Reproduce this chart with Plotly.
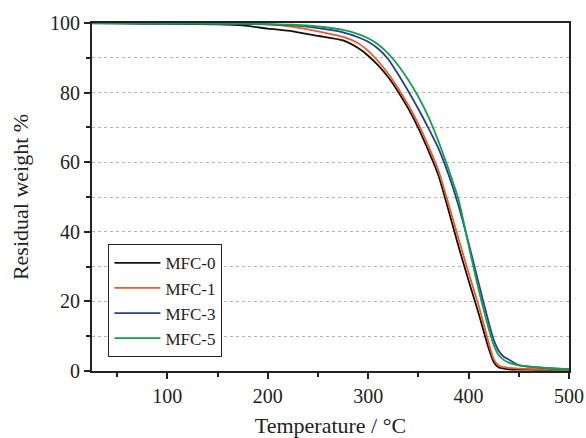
import plotly.graph_objects as go

# Thermogravimetric curves: residual mass vs temperature
temperature = [25, 50, 100, 150, 175, 200, 225, 250, 275, 290, 300, 310, 320, 330,
               340, 350, 360, 370, 380, 390, 400, 410, 420, 425, 430, 435, 440, 450,
               470, 500]

mfc0 = [100.0, 99.9, 99.8, 99.6, 99.3, 98.4, 97.6, 96.3, 95.0, 92.8, 90.6, 87.8, 84.4,
        80.2, 75.4, 69.8, 63.3, 56.2, 46.2, 35.8, 26.0, 16.5, 6.5, 2.6, 1.0, 0.7, 0.5,
        0.4, 0.35, 0.3]
mfc1 = [100.0, 100.0, 100.0, 99.9, 99.8, 99.6, 98.9, 97.6, 96.0, 94.2, 92.0, 89.0, 85.4,
        81.2, 76.4, 71.0, 64.6, 57.6, 48.0, 38.0, 28.2, 18.8, 8.2, 3.4, 1.6, 1.1, 0.9,
        0.7, 0.5, 0.35]
mfc3 = [99.9, 99.9, 99.8, 99.7, 99.7, 99.6, 99.3, 98.5, 97.3, 95.9, 94.6, 92.6, 89.6,
        85.2, 80.4, 75.3, 69.8, 64.0, 56.5, 47.5, 36.8, 25.3, 14.0, 9.0, 5.8, 4.1, 3.3,
        1.7, 1.0, 0.5]
mfc5 = [100.0, 100.0, 99.9, 99.8, 99.8, 99.7, 99.5, 99.0, 98.0, 96.8, 95.6, 93.8, 91.2,
        87.8, 83.6, 78.8, 73.0, 66.0, 58.0, 49.3, 36.2, 23.4, 12.2, 7.5, 4.6, 3.2, 2.4,
        1.6, 1.0, 0.5]

series = [
    ("MFC-0", mfc0, "#111111"),
    ("MFC-1", mfc1, "#EE5A2A"),
    ("MFC-3", mfc3, "#2E3A98"),
    ("MFC-5", mfc5, "#12A04E"),
]

fig = go.Figure()
for name, values, color in series:
    fig.add_trace(go.Scatter(
        x=temperature, y=values, name=name, mode="lines",
        line=dict(color=color, width=1.8, shape="spline", smoothing=0.6),
    ))

font_family = "Liberation Serif, Times New Roman, serif"
axis_color = "#222222"

fig.update_layout(
    width=586, height=438,
    margin=dict(l=92, r=17, t=23, b=67),
    paper_bgcolor="white", plot_bgcolor="white",
    font=dict(family=font_family, size=20, color="#222222"),
    showlegend=True,
    legend=dict(
        x=0.034, y=0.04, xanchor="left", yanchor="bottom",
        bgcolor="white", bordercolor="#222222", borderwidth=1.2,
        font=dict(family=font_family, size=17, color="#222222"),
        tracegroupgap=0, itemwidth=46,
    ),
)

fig.update_xaxes(
    range=[25, 500], tickvals=[100, 200, 300, 400, 500],
    ticks="outside", ticklen=6, tickwidth=1.5, tickcolor=axis_color,
    minor=dict(tickvals=[50, 150, 250, 350, 450], ticks="outside", ticklen=4,
               tickwidth=1.5, tickcolor=axis_color, showgrid=False),
    showline=True, linecolor=axis_color, linewidth=1.8, mirror=True,
    showgrid=False, zeroline=False, automargin=False,
    tickfont=dict(size=20),
    title=dict(text="Temperature / °C", font=dict(size=22), standoff=12),
)

fig.update_yaxes(
    range=[0, 100], tickvals=[0, 20, 40, 60, 80, 100],
    ticks="outside", ticklen=6, tickwidth=1.5, tickcolor=axis_color,
    minor=dict(tickvals=[10, 30, 50, 70, 90], ticks="outside", ticklen=4,
               tickwidth=1.5, tickcolor=axis_color, showgrid=True,
               gridcolor="#b5b5b5", griddash="dot", gridwidth=1),
    showgrid=True, gridcolor="#b5b5b5", griddash="dot", gridwidth=1,
    showline=True, linecolor=axis_color, linewidth=1.8, mirror=True,
    zeroline=False, automargin=False,
    tickfont=dict(size=20),
    title=dict(text="Residual weight %", font=dict(size=22), standoff=15),
)

fig.write_html("out.html")
